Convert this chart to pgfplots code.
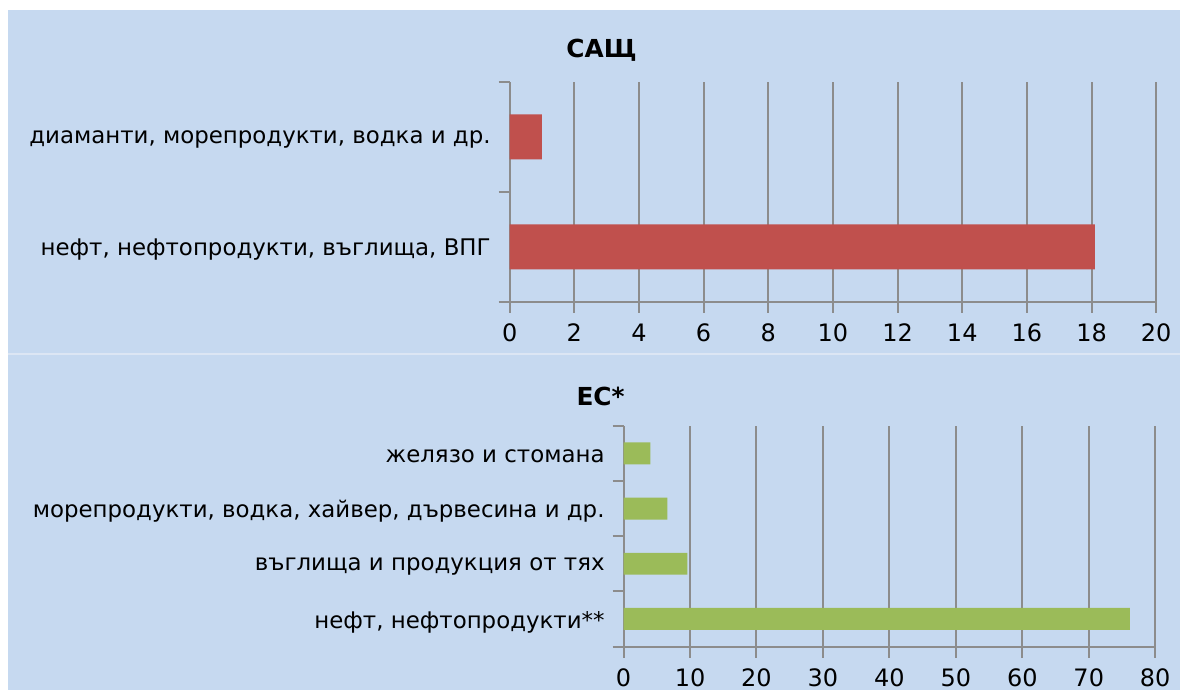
\documentclass[border=0pt]{standalone}
\usepackage{fontspec}
\setmainfont{DejaVu Sans}
\usepackage{pgfplots}
\pgfplotsset{compat=1.18}
\definecolor{bgblue}{HTML}{C6D9F0}
\definecolor{sepline}{HTML}{DCE6F4}
\definecolor{gridgray}{HTML}{8C8C8C}
\definecolor{barred}{HTML}{C0504D}
\definecolor{bargreen}{HTML}{9BBB59}
\pgfplotsset{
  common/.style={
    scale only axis,
    xbar,
    axis x line*=bottom,
    axis y line*=left,
    axis line style={gridgray, line width=1pt},
    xmajorgrids,
    grid style={gridgray, line width=1pt},
    major tick style={gridgray, line width=1pt},
    tick align=outside,
    major tick length=5.5pt,
    yticklabels={},
    extra y tick style={major tick length=0pt, grid=none, yticklabel style={xshift=-6pt, yshift=-1.5pt, font=\fontsize{11.45}{13}\selectfont}},
    /pgf/number format/assume math mode=true,
    ticklabel style={font=\fontsize{11.45}{13}\selectfont, text=black},
    xticklabel style={yshift=-2pt, font=\fontsize{12}{14}\selectfont},
    clip=false,
  }
}
\begin{document}
\begin{tikzpicture}
\fill[white] (0pt,0pt) rectangle (590.5pt,345pt);
\fill[bgblue] (4pt,0pt) rectangle (590.5pt,340pt);
\draw[sepline, line width=0.8pt] (4pt,168pt) -- (590.5pt,168pt);
\node[font=\bfseries\fontsize{12.4}{14}\selectfont] at (301pt,320pt) {САЩ};
\node[font=\bfseries\fontsize{12.4}{14}\selectfont] at (300.5pt,146.5pt) {ЕС*};
\begin{axis}[common,
  at={(255pt,194pt)}, anchor=south west,
  width=323.5pt, height=110pt,
  xmin=0, xmax=20, xtick={0,2,...,20},
  ymin=-0.5, ymax=1.5,
  ytick={-0.5,0.5,1.5},
  extra y ticks={0,1},
  extra y tick labels={{нефт, нефтопродукти, въглища, ВПГ},{диаманти, морепродукти, водка и др.}},
  bar width=22.5pt,
]
\addplot[fill=barred, draw=none] coordinates {(18.1,0) (1,1)};
\end{axis}
\begin{axis}[common,
  at={(312pt,21.5pt)}, anchor=south west,
  width=266pt, height=110.5pt,
  xmin=0, xmax=80, xtick={0,10,...,80},
  ymin=-0.5, ymax=3.5,
  ytick={-0.5,0.5,1.5,2.5,3.5},
  extra y ticks={0,1,2,3},
  extra y tick labels={{нефт, нефтопродукти**},{въглища и продукция от тях},{морепродукти, водка, хайвер, дървесина и др.},{желязо и стомана}},
  bar width=11pt,
]
\addplot[fill=bargreen, draw=none] coordinates {(76.2,0) (9.6,1) (6.6,2) (4.05,3)};
\end{axis}
\end{tikzpicture}
\end{document}
